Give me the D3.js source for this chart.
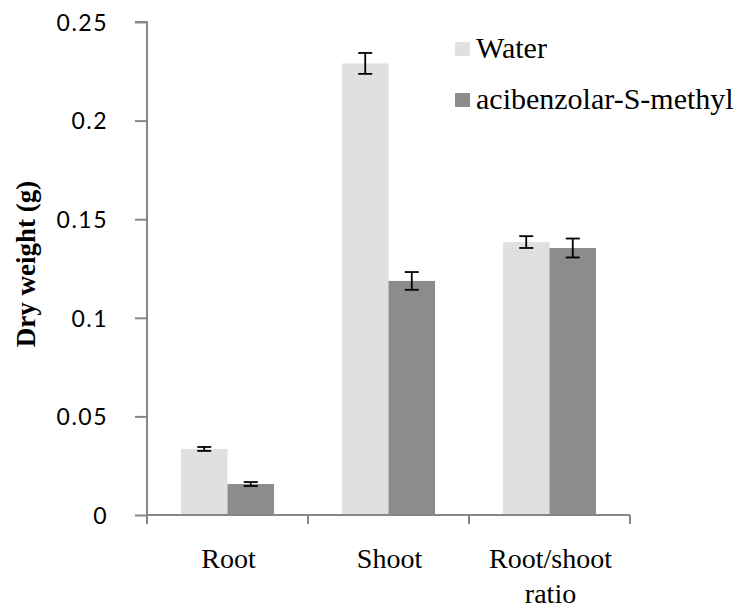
<!DOCTYPE html>
<html>
<head>
<meta charset="utf-8">
<script src="https://cdn.jsdelivr.net/npm/d3@7"></script>
<style>
  html, body { margin: 0; padding: 0; background: #fff; }
  svg { display: block; }
</style>
</head>
<body>
<svg id="chart" width="742" height="608"></svg>
<script>
// Dry weight by plant part, water control vs acibenzolar-S-methyl treatment
const categories = ["Root", "Shoot", "Root/shoot ratio"];
const seriesNames = ["Water", "acibenzolar-S-methyl"];
const waterValues = [0.0335, 0.229, 0.1384];
const waterErrors = [0.0010, 0.0053, 0.0030];
const asmValues = [0.0157, 0.1187, 0.1354];
const asmErrors = [0.0010, 0.0045, 0.0048];
const yTicks = [0, 0.05, 0.1, 0.15, 0.2, 0.25];
const yTickLabels = ["0", "0.05", "0.1", "0.15", "0.2", "0.25"];

const colors = ["#e0e0e0", "#8c8c8c"];
const axisColor = "#878787";
const serif = "'Liberation Serif', 'Times New Roman', serif";

const svg = d3.select("#chart");
const plotLeft = 147, plotRight = 630, plotTop = 22, plotBottom = 515;

const x = d3.scaleBand().domain(categories).range([plotLeft, plotRight]).paddingInner(0).paddingOuter(0);
const xSub = d3.scaleBand().domain(seriesNames).range([0, x.bandwidth()]).paddingInner(0).paddingOuter(0.73);
const y = d3.scaleLinear().domain([0, 0.25]).range([plotBottom, plotTop]);

const series = [
  { name: seriesNames[0], values: waterValues, errors: waterErrors, color: colors[0] },
  { name: seriesNames[1], values: asmValues, errors: asmErrors, color: colors[1] }
];

// Bars
series.forEach(s => {
  svg.append("g").selectAll("rect")
    .data(categories.map((c, i) => ({ c, v: s.values[i], e: s.errors[i] })))
    .join("rect")
    .attr("x", d => x(d.c) + xSub(s.name))
    .attr("y", d => y(d.v))
    .attr("width", xSub.bandwidth())
    .attr("height", d => y(0) - y(d.v))
    .attr("fill", s.color);
});

// Error bars
series.forEach(s => {
  const g = svg.append("g").attr("stroke", "#000").attr("stroke-width", 1.8).attr("fill", "none");
  categories.forEach((c, i) => {
    const cx = x(c) + xSub(s.name) + xSub.bandwidth() / 2;
    const y1 = y(s.values[i] + s.errors[i]);
    const y2 = y(s.values[i] - s.errors[i]);
    g.append("line").attr("x1", cx).attr("x2", cx).attr("y1", y1).attr("y2", y2);
    g.append("line").attr("x1", cx - 7).attr("x2", cx + 7).attr("y1", y1).attr("y2", y1);
    g.append("line").attr("x1", cx - 7).attr("x2", cx + 7).attr("y1", y2).attr("y2", y2);
  });
});

// Y axis
const yAxis = d3.axisLeft(y).tickValues(yTicks).tickFormat((d, i) => yTickLabels[i]).tickSize(12).tickPadding(27);
const gy = svg.append("g").attr("transform", `translate(${plotLeft},0)`).call(yAxis);
gy.select(".domain").attr("stroke", axisColor).attr("stroke-width", 2)
  .attr("d", `M-12,${plotTop}H0V${plotBottom + 9}`);
gy.selectAll(".tick line").attr("stroke", axisColor).attr("stroke-width", 2);
gy.selectAll(".tick text")
  .attr("fill", "#000")
  .attr("dy", "0.36em")
  .style("font-family", "Lato, 'Open Sans', sans-serif")
  .style("font-size", "23px")
  .style("letter-spacing", "1.5px");

// X axis
const gx = svg.append("g");
gx.append("line").attr("x1", plotLeft).attr("x2", plotRight).attr("y1", plotBottom).attr("y2", plotBottom)
  .attr("stroke", axisColor).attr("stroke-width", 2);
categories.forEach(c => {
  const xe = x(c) + x.bandwidth();
  gx.append("line").attr("x1", xe).attr("x2", xe).attr("y1", plotBottom).attr("y2", plotBottom + 9)
    .attr("stroke", axisColor).attr("stroke-width", 2);
});

// Category labels
const catLines = { "Root": ["Root"], "Shoot": ["Shoot"], "Root/shoot ratio": ["Root/shoot", "ratio"] };
categories.forEach(c => {
  const cx = x(c) + x.bandwidth() / 2 + 1;
  const t = svg.append("text")
    .attr("x", cx)
    .attr("y", 568)
    .attr("text-anchor", "middle")
    .style("font-family", serif)
    .style("font-size", "28px")
    .attr("fill", "#000");
  catLines[c].forEach((ln, i) => {
    t.append("tspan").attr("x", cx).attr("dy", i === 0 ? 0 : 35).text(ln);
  });
});

// Y axis title
svg.append("text")
  .attr("transform", `translate(35,264) rotate(-90)`)
  .attr("text-anchor", "middle")
  .style("font-family", serif)
  .style("font-weight", "bold")
  .style("font-size", "27px")
  .attr("fill", "#000")
  .text("Dry weight (g)");

// Legend
const legend = svg.append("g");
series.forEach((s, i) => {
  const ly = 49 + i * 51;
  legend.append("rect").attr("x", 455).attr("y", ly - 7).attr("width", 15).attr("height", 14).attr("fill", s.color);
  legend.append("text").attr("x", 476).attr("y", ly + 9)
    .style("font-family", serif)
    .style("font-size", "30px")
    .attr("fill", "#000")
    .text(s.name);
});
</script>
</body>
</html>
